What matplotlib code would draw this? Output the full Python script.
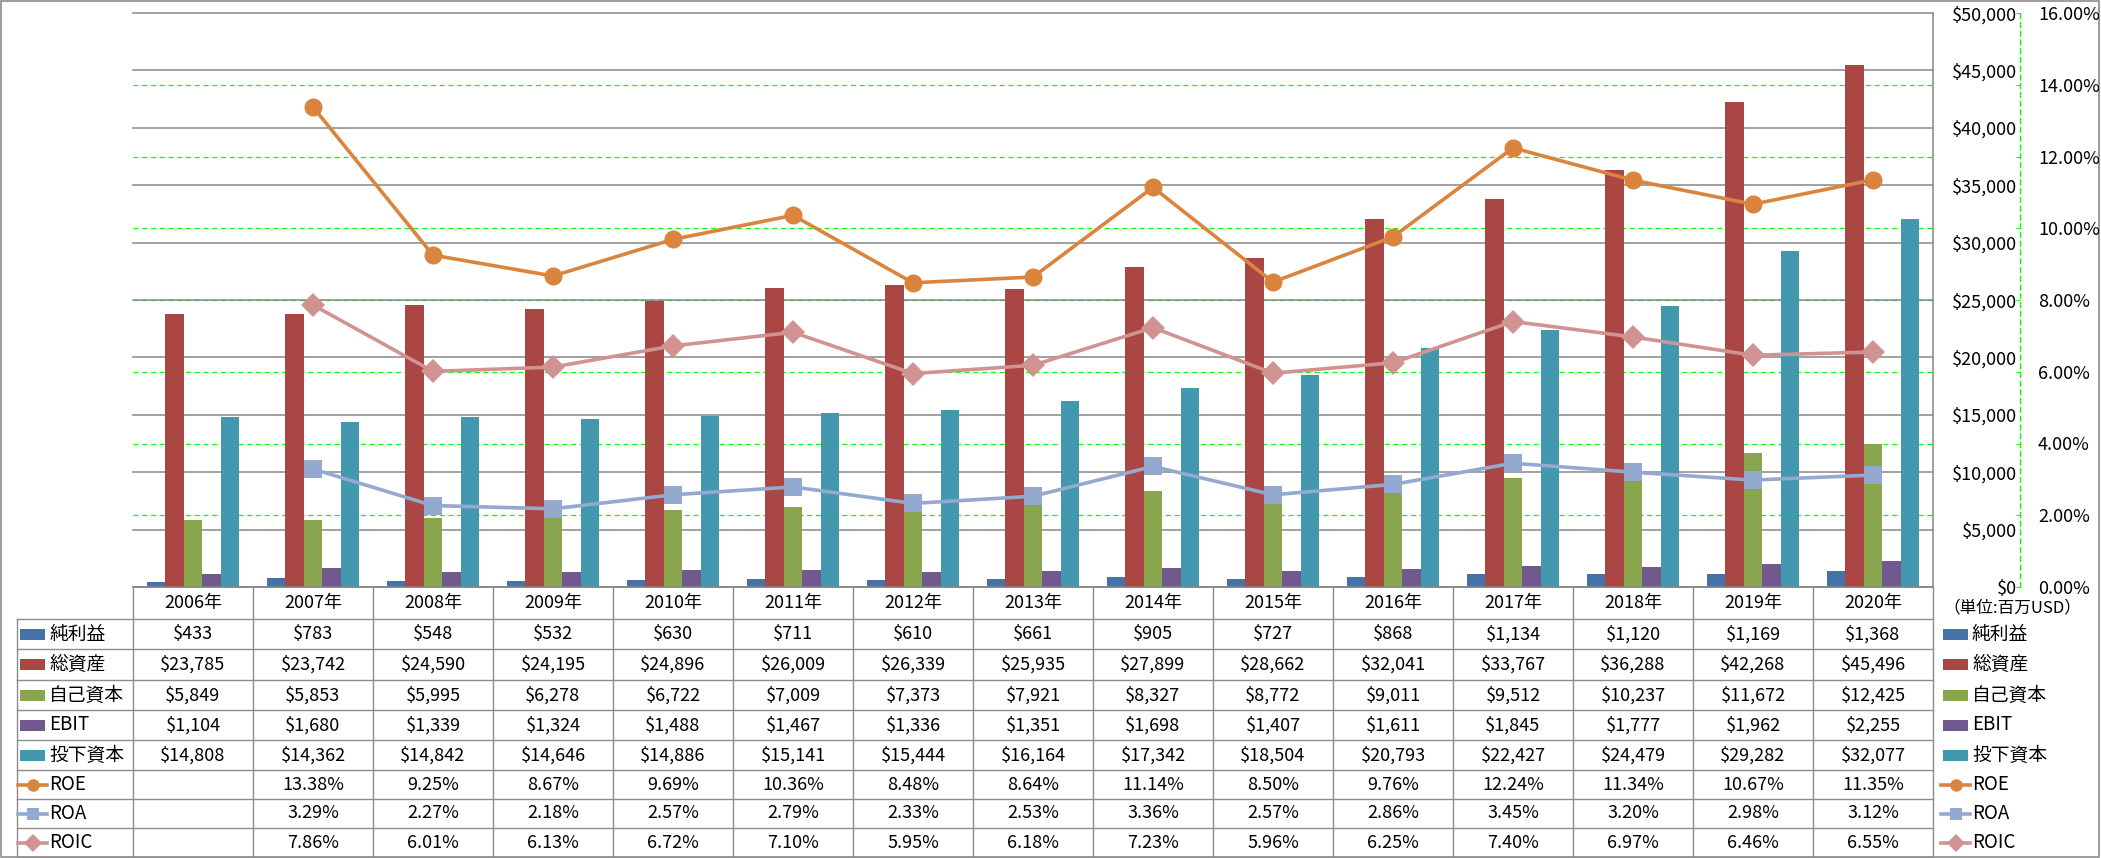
import matplotlib
matplotlib.use('Agg')
import matplotlib.pyplot as plt
import numpy as np
from matplotlib.patches import Rectangle
from matplotlib.ticker import FuncFormatter

plt.rcParams['font.family'] = ['Noto Sans CJK JP', 'DejaVu Sans']

years = ['2006年', '2007年', '2008年', '2009年', '2010年', '2011年', '2012年', '2013年',
         '2014年', '2015年', '2016年', '2017年', '2018年', '2019年', '2020年']
net_income = [433, 783, 548, 532, 630, 711, 610, 661, 905, 727, 868, 1134, 1120, 1169, 1368]
total_assets = [23785, 23742, 24590, 24195, 24896, 26009, 26339, 25935, 27899, 28662,
                32041, 33767, 36288, 42268, 45496]
equity = [5849, 5853, 5995, 6278, 6722, 7009, 7373, 7921, 8327, 8772, 9011, 9512, 10237, 11672, 12425]
ebit = [1104, 1680, 1339, 1324, 1488, 1467, 1336, 1351, 1698, 1407, 1611, 1845, 1777, 1962, 2255]
invested = [14808, 14362, 14842, 14646, 14886, 15141, 15444, 16164, 17342, 18504, 20793,
            22427, 24479, 29282, 32077]
roe = [None, 13.38, 9.25, 8.67, 9.69, 10.36, 8.48, 8.64, 11.14, 8.50, 9.76, 12.24, 11.34, 10.67, 11.35]
roa = [None, 3.29, 2.27, 2.18, 2.57, 2.79, 2.33, 2.53, 3.36, 2.57, 2.86, 3.45, 3.20, 2.98, 3.12]
roic = [None, 7.86, 6.01, 6.13, 6.72, 7.10, 5.95, 6.18, 7.23, 5.96, 6.25, 7.40, 6.97, 6.46, 6.55]

bar_names = ['純利益', '総資産', '自己資本', 'EBIT', '投下資本']
bar_data = [net_income, total_assets, equity, ebit, invested]
bar_colors = ['#4572A7', '#AA4643', '#89A54E', '#71588F', '#4198AF']
line_names = ['ROE', 'ROA', 'ROIC']
line_data = [roe, roa, roic]
line_colors = ['#DB843D', '#93A9CF', '#D19392']
line_markers = ['o', 's', 'D']
line_msize = [13, 12.5, 12]

W, H = 2101, 858
fig = plt.figure(figsize=(W / 100, H / 100), dpi=100)
fs = 13
grid_gray = '#868686'
lime = '#00FF00'

# plot area in pixels: x 133..1933, y 13..587
rect = [133 / W, 1 - 587 / H, 1800 / W, 574 / H]
ax = fig.add_axes(rect)
axp = ax.twinx()
axl = ax.twinx()
ax.set_zorder(2)
axp.set_zorder(1)
axl.set_zorder(3)
ax.patch.set_visible(False)
axl.patch.set_visible(False)

x = np.arange(len(years))
bw = 0.154
for i, (vals, c) in enumerate(zip(bar_data, bar_colors)):
    ax.bar(x + (i - 2) * bw, vals, width=bw, color=c, zorder=2)
ax.set_xlim(-0.5, len(years) - 0.5)
ax.set_ylim(0, 50000)
ax.set_yticks(np.arange(0, 50001, 5000))
ax.yaxis.set_major_formatter(FuncFormatter(lambda v, p: f'${int(v):,}'))
ax.yaxis.tick_right()
ax.tick_params(axis='y', length=0, pad=60.5, labelsize=fs)
for t in ax.get_yticklabels():
    t.set_horizontalalignment('right')
ax.set_xticks([])
ax.grid(axis='y', color=grid_gray, lw=1.1, clip_on=False)
ax.set_axisbelow(True)
for s in ['left', 'top']:
    ax.spines[s].set_visible(False)
for s in ['right', 'bottom']:
    ax.spines[s].set_color(grid_gray)
    ax.spines[s].set_linewidth(1.1)

axp.set_ylim(0, 16)
axp.set_yticks(np.arange(0, 16.01, 2))
axp.yaxis.set_major_formatter(FuncFormatter(lambda v, p: f'{v:.2f}%'))
for t in axp.get_yticks()[1:-1]:
    axp.axhline(t, color=lime, lw=0.9, linestyle=(0, (4, 3)))
axp.tick_params(axis='y', direction='in', length=3, color=lime, pad=13, labelsize=fs)
for s in ['left', 'top', 'bottom']:
    axp.spines[s].set_visible(False)
axp.spines['right'].set_position(('outward', 62.6))
axp.spines['right'].set_color(lime)
axp.spines['right'].set_linestyle((0, (4, 3)))
axp.spines['right'].set_linewidth(0.9)

for vals, c, m, ms in zip(line_data, line_colors, line_markers, line_msize):
    yv = np.array([np.nan if v is None else v for v in vals])
    axl.plot(x, yv, color=c, lw=2.6, marker=m, markersize=ms, markeredgewidth=0)
axl.set_ylim(0, 16)
axl.set_yticks([])
for s in axl.spines.values():
    s.set_visible(False)

# data table drawn in pixel coordinates
tb = fig.add_axes([0, 0, 1, 1])
tb.set_xlim(0, W)
tb.set_ylim(H, 0)
tb.axis('off')
tb.patch.set_visible(False)
tb.set_zorder(0)

line_gray = '#8C8C8C'
rows = [587, 619, 649, 680, 710, 740, 770, 799, 828, 857]
col0, cw = 133, 120
tb.add_patch(Rectangle((1, 1), 2098, 856, fill=False, ec=line_gray, lw=1.2))
for yb in rows[1:]:
    tb.plot([17, col0 + cw * len(years)], [yb, yb], color=line_gray, lw=1)
tb.plot([17, 17], [rows[1], rows[-1]], color=line_gray, lw=1)
for i in range(len(years) + 1):
    xb = col0 + cw * i
    tb.plot([xb, xb], [rows[0], rows[-1]], color=line_gray, lw=1)

centers = [(rows[k] + rows[k + 1]) / 2 for k in range(len(rows) - 1)]
for i, yr in enumerate(years):
    tb.text(col0 + cw * i + cw / 2, centers[0], yr, ha='center', va='center', fontsize=fs)

table_rows = [[f'${v:,}' for v in vals] for vals in bar_data]
table_rows += [['' if v is None else f'{v:.2f}%' for v in vals] for vals in line_data]
for r, cells in enumerate(table_rows):
    for i, s in enumerate(cells):
        tb.text(col0 + cw * i + cw / 2, centers[r + 1], s, ha='center', va='center', fontsize=fs)

names = bar_names + line_names
for r, name in enumerate(names):
    yc = centers[r + 1]
    for kx in [20, 1943]:
        if r < len(bar_names):
            tb.add_patch(Rectangle((kx, yc - 5.5), 25, 11, color=bar_colors[r], lw=0))
        else:
            k = r - len(bar_names)
            tb.plot([kx - 2, kx + 27], [yc, yc], color=line_colors[k], lw=2.6)
            tb.plot([kx + 12.5], [yc], color=line_colors[k], marker=line_markers[k],
                    markersize=9, markeredgewidth=0)
        tb.text(kx + 29, yc, name, ha='left', va='center', fontsize=13.5)

tb.text(1943, 608, '（単位:百万USD）', ha='left', va='center', fontsize=12)

fig.savefig('out.png', dpi=100)
